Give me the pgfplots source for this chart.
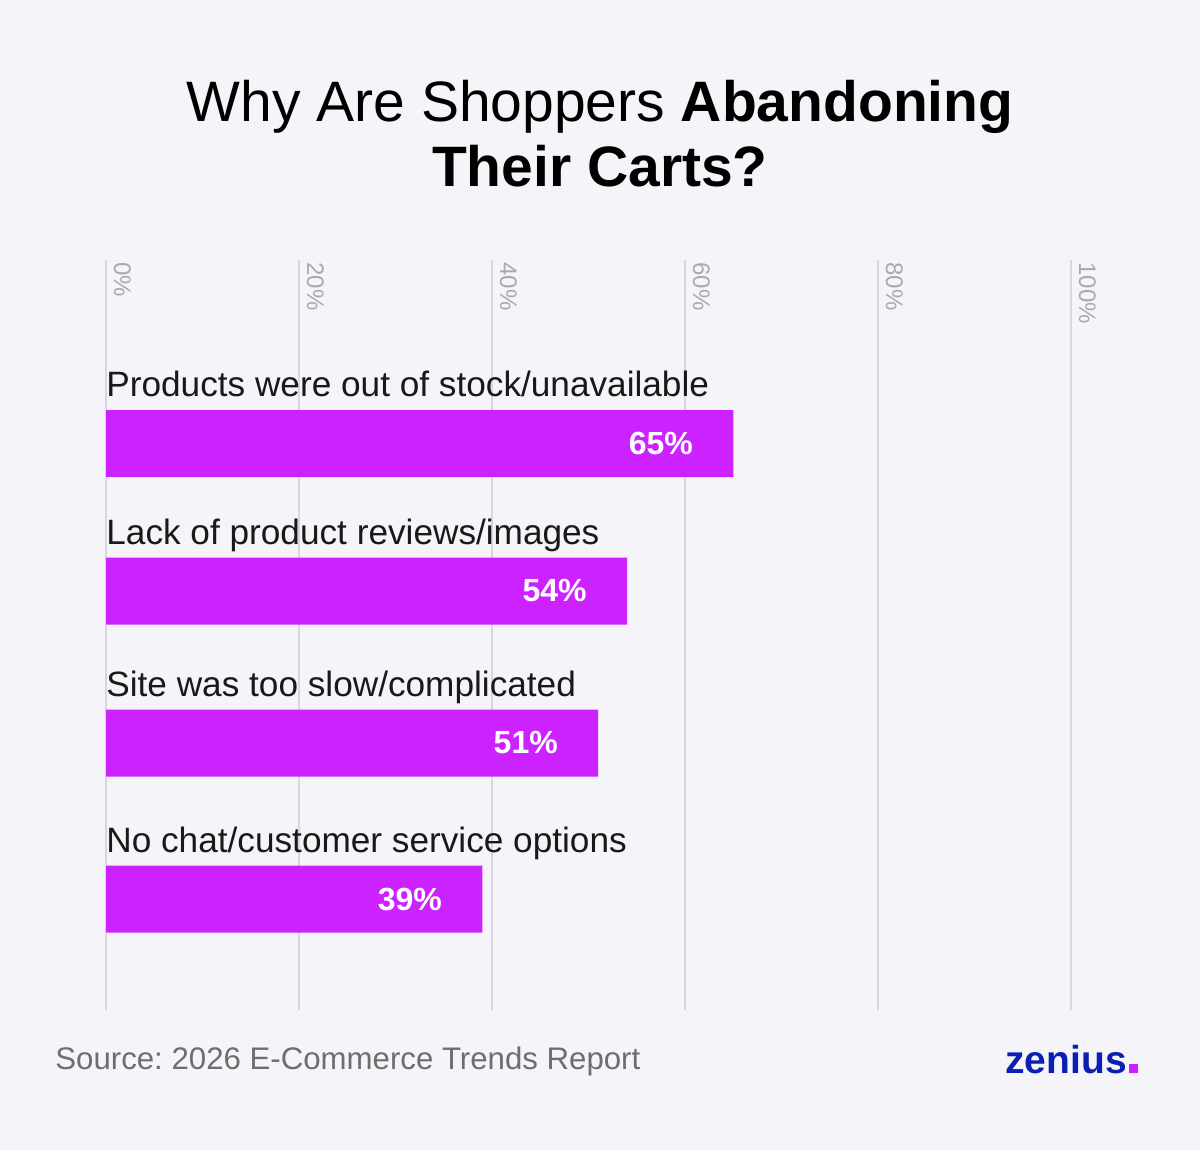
\documentclass[border=0pt]{standalone}
\usepackage{pgfplots}
\pgfplotsset{compat=1.18}
\usepackage{fontspec}
\setmainfont{Liberation Sans}
\frenchspacing
\definecolor{bgc}{HTML}{F5F5F9}
\definecolor{barc}{HTML}{CC22FF}
\definecolor{gridc}{HTML}{D8D8DC}
\definecolor{tickc}{HTML}{AAAAAA}
\definecolor{srcc}{HTML}{6E6E6E}
\definecolor{zen}{HTML}{0B1FB2}
\begin{document}
\begin{tikzpicture}
\fill[bgc] (0,0) rectangle (600bp,575bp);
\node[anchor=base, inner sep=0pt, font=\fontsize{28.5bp}{34bp}\selectfont] at (300bp,514bp) {Why Are Shoppers \textbf{Abandoning}};
\node[anchor=base, inner sep=0pt, font=\fontsize{28.5bp}{34bp}\selectfont\bfseries] at (300bp,481.5bp) {Their Carts?};
\begin{axis}[
  at={(53bp,70bp)}, anchor=south west,
  scale only axis, width=482.5bp, height=375bp,
  xmin=0, xmax=100, ymin=260, ymax=1010, y dir=reverse,
  axis line style={draw=none},
  xtick={0,20,40,60,80,100},
  xticklabels={0\%,20\%,40\%,60\%,80\%,100\%},
  xticklabel pos=upper,
  xticklabel style={xshift=4bp, yshift=-1bp, font=\fontsize{12bp}{14bp}\selectfont, text=tickc, rotate=-90, anchor=base west, inner sep=0pt},
  /pgf/number format/assume math mode=true,
  ytick=\empty,
  major tick length=0pt,
  xmajorgrids, grid style={gridc, line width=0.6bp},
  clip=false,
  point meta=x,
  nodes near coords={\pgfmathprintnumber{\pgfplotspointmeta}\%},
  nodes near coords style={anchor=east, xshift=-20bp, inner sep=0pt, text=white, font=\fontsize{16bp}{18bp}\selectfont\bfseries},
]
\addplot[xbar, bar width=33.5bp, fill=barc, draw=none] coordinates {(65,443.5) (54,591) (51,743) (39,899)};
\node[anchor=base west, inner sep=0pt, font=\fontsize{17.6bp}{20bp}\selectfont, text=black!90] at (axis cs:0,396) {Products were out of stock/unavailable};
\node[anchor=base west, inner sep=0pt, font=\fontsize{17.6bp}{20bp}\selectfont, text=black!90] at (axis cs:0,544) {Lack of product reviews/images};
\node[anchor=base west, inner sep=0pt, font=\fontsize{17.6bp}{20bp}\selectfont, text=black!90] at (axis cs:0,696) {Site was too slow/complicated};
\node[anchor=base west, inner sep=0pt, font=\fontsize{17.6bp}{20bp}\selectfont, text=black!90] at (axis cs:0,852) {No chat/customer service options};
\end{axis}
\node[anchor=base west, inner sep=0pt, font=\fontsize{15.6bp}{18bp}\selectfont, text=srcc] at (27.5bp,40bp) {Source: 2026 E-Commerce Trends Report};
\node[anchor=base west, inner sep=0pt, font=\fontsize{19.5bp}{22bp}\selectfont\bfseries, text=zen] (z) at (502.5bp,38.5bp) {zenius};
\fill[barc] (z.base east) ++(0.8bp,0) rectangle ++(4.5bp,4.5bp);
\end{tikzpicture}
\end{document}
